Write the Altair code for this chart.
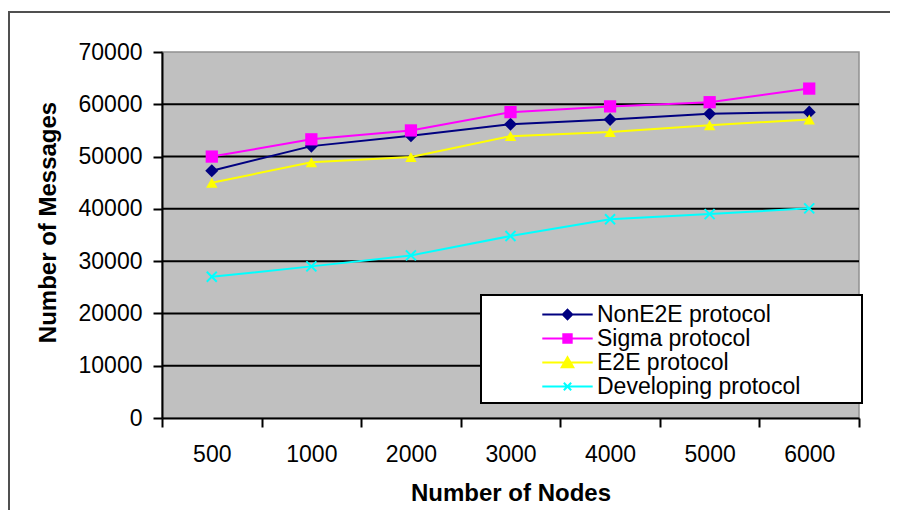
import altair as alt
import pandas as pd

# ---- data ----
nodes = ["500", "1000", "2000", "3000", "4000", "5000", "6000"]
series = ["NonE2E protocol", "Sigma protocol", "E2E protocol", "Developing protocol"]
none2e = [47300, 52000, 54000, 56200, 57100, 58200, 58500]
sigma = [50000, 53300, 55000, 58500, 59600, 60400, 63000]
e2e = [45000, 48900, 49900, 53900, 54700, 56000, 57100]
developing = [27000, 29000, 31100, 34800, 38000, 39000, 40100]
y_ticks = [0, 10000, 20000, 30000, 40000, 50000, 60000, 70000]
colors = ["#000080", "#FF00FF", "#FFFF00", "#00FFFF"]

rows = []
for s, vals in zip(series, [none2e, sigma, e2e, developing]):
    for n, v in zip(nodes, vals):
        rows.append({"nodes": n, "protocol": s, "messages": v})
df = pd.DataFrame(rows)
grid_df = pd.DataFrame({"messages": y_ticks[1:-1]})

FONT = "Liberation Sans"
XPATH = "M-1,-1L1,1M-1,1L1,-1"
W, H = 697, 366

x_enc = alt.X(
    "nodes:N", sort=nodes, bandPosition=0.5,
    scale=alt.Scale(type="band", paddingInner=0, paddingOuter=0),
    axis=alt.Axis(title="Number of Nodes", labelAngle=0, tickBand="extent",
                  labelFont=FONT, labelFontSize=23, labelColor="black", labelPadding=16,
                  tickSize=9, tickColor="black", tickWidth=2,
                  domainColor="black", domainWidth=2, grid=False, zindex=1,
                  titleFont=FONT, titleFontSize=24, titleFontWeight="bold",
                  titleColor="black", titlePadding=15),
)
y_scale = alt.Scale(domain=[0, 70000], nice=False)
y_enc = alt.Y(
    "messages:Q", scale=y_scale,
    axis=alt.Axis(values=y_ticks, format="d", title="Number of Messages",
                  titleFont=FONT, titleFontSize=24, titleFontWeight="bold",
                  titleColor="black", titlePadding=18, titleY=170,
                  labelFont=FONT, labelFontSize=23, labelColor="black", labelPadding=11,
                  tickSize=9, tickColor="black", tickWidth=2,
                  domainColor="black", domainWidth=2, grid=False, zindex=1),
)
color_scale = alt.Scale(domain=series, range=colors)

base = alt.Chart(df)

one = alt.Chart(alt.Data(values=[{"k": 1}]))
plot_bg = one.mark_rect(fill="#C0C0C0", stroke="#909090", strokeWidth=1.5).encode(
    x=alt.value(0), x2=alt.value(W), y=alt.value(0), y2=alt.value(H))

grid = alt.Chart(grid_df).mark_rule(color="black", strokeWidth=2).encode(
    y=alt.Y("messages:Q", scale=y_scale))

lines = base.mark_line(strokeWidth=2).encode(
    x=x_enc, y=y_enc,
    color=alt.Color("protocol:N", scale=color_scale, legend=None),
)

filled_pts = base.transform_filter(alt.datum.protocol != "Developing protocol").mark_point(
    filled=True, opacity=1
).encode(
    x=x_enc, y=y_enc,
    color=alt.Color("protocol:N", scale=color_scale, legend=None),
    shape=alt.Shape("protocol:N", scale=alt.Scale(domain=series[:3],
                    range=["diamond", "square", "triangle-up"]), legend=None),
    size=alt.Size("protocol:N", scale=alt.Scale(domain=series[:3], range=[170, 130, 170]),
                  legend=None),
)

x_pts = base.transform_filter(alt.datum.protocol == "Developing protocol").mark_point(
    shape=XPATH, filled=False, strokeWidth=2, size=100, opacity=1, color="#00FFFF"
).encode(x=x_enc, y=y_enc)

legend_paths = [
    "M-2.4,0H2.4M0,-0.45L0.45,0L0,0.45L-0.45,0Z",
    "M-2.4,0H2.4M-0.4,-0.4H0.4V0.4H-0.4Z",
    "M-2.4,0H2.4M0,-0.5L0.55,0.45L-0.55,0.45Z",
    "M-2.4,0H2.4M-0.35,-0.35L0.35,0.35M-0.35,0.35L0.35,-0.35",
]
leg = alt.Legend(title=None, orient="none", legendX=394, legendY=251,
                 symbolSize=441, symbolStrokeWidth=2,
                 labelFont=FONT, labelFontSize=23, labelColor="black",
                 labelOffset=18, labelLimit=400, rowPadding=0, padding=0)

legend_layer = base.transform_filter("false").mark_point(opacity=1, filled=True, strokeWidth=2).encode(
    fill=alt.Fill("protocol:N", scale=color_scale, legend=leg),
    stroke=alt.Stroke("protocol:N", scale=color_scale, legend=leg),
    shape=alt.Shape("protocol:N", scale=alt.Scale(domain=series, range=legend_paths), legend=leg),
)

# outer chart frame (only its top and left edges are visible in the reference)
frame_left = one.mark_rect(fill="#505050", strokeWidth=0).encode(
    x=alt.value(-154), x2=alt.value(-152), y=alt.value(-41), y2=alt.value(458))
frame_top = one.mark_rect(fill="#505050", strokeWidth=0).encode(
    x=alt.value(-154), x2=alt.value(728), y=alt.value(-41), y2=alt.value(-39))
legend_box = one.mark_rect(fill="white", stroke="black", strokeWidth=2).encode(
    x=alt.value(319), x2=alt.value(700), y=alt.value(243), y2=alt.value(351))

chart = alt.layer(
    frame_left, frame_top, plot_bg, grid, legend_box, lines, filled_pts, x_pts, legend_layer
).resolve_scale(
    shape="independent", color="independent", fill="independent",
    stroke="independent", size="independent"
).properties(
    width=W, height=H,
    padding={"left": 0, "top": 3, "right": 0, "bottom": 0},
    background="white",
).configure_view(
    strokeWidth=0
)

chart.save("out.html", embed_options={"renderer": "svg", "actions": False})
